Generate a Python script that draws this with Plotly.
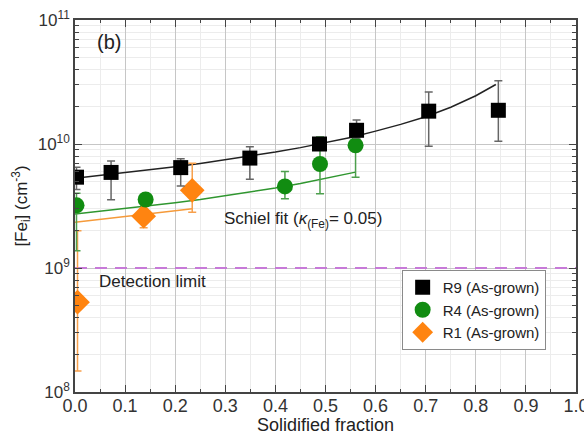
import plotly.graph_objects as go

# ---- measured Fe_i concentrations (cm^-3) vs. solidified fraction ----
r9_x = [0.003, 0.072, 0.211, 0.349, 0.488, 0.562, 0.706, 0.845]
r9_y = [5.4e9, 5.9e9, 6.45e9, 7.7e9, 1.0e10, 1.29e10, 1.84e10, 1.87e10]
r9_hi = [6.5e9, 7.3e9, 7.6e9, 9.5e9, 1.08e10, 1.56e10, 2.63e10, 3.23e10]
r9_lo = [4.3e9, 3.55e9, 4.58e9, 5.2e9, 9.2e9, 1.12e10, 9.6e9, 1.05e10]

r4_x = [0.003, 0.141, 0.419, 0.489, 0.560]
r4_y = [3.2e9, 3.57e9, 4.55e9, 6.9e9, 9.75e9]
r4_hi = [4.0e9, 3.8e9, 6.0e9, 1.14e10, 1.3e10]
r4_lo = [1.38e9, 3.35e9, 3.62e9, 3.97e9, 5.4e9]

r1_x = [0.005, 0.137, 0.234]
r1_y = [5.3e8, 2.62e9, 4.23e9]
r1_hi = [2.0e9, 3.0e9, 6.98e9]
r1_lo = [1.48e8, 2.11e9, 2.82e9]

# ---- Scheil fit curves ----
fit9_x = [0, 0.05, 0.10, 0.15, 0.20, 0.25, 0.30, 0.35, 0.40, 0.45, 0.50,
          0.55, 0.60, 0.65, 0.70, 0.75, 0.80, 0.84]
fit9_y = [5.3e9, 5.57e9, 5.86e9, 6.19e9, 6.55e9, 6.96e9, 7.44e9, 7.98e9,
          8.61e9, 9.35e9, 1.024e10, 1.13e10, 1.27e10, 1.44e10, 1.66e10,
          1.98e10, 2.45e10, 3.02e10]
fit4_x = [0, 0.05, 0.10, 0.15, 0.20, 0.25, 0.30, 0.35, 0.40, 0.45, 0.50, 0.56]
fit4_y = [2.72e9, 2.86e9, 3.01e9, 3.17e9, 3.36e9, 3.57e9, 3.82e9, 4.10e9,
          4.42e9, 4.80e9, 5.26e9, 5.93e9]
fit1_x = [0, 0.05, 0.10, 0.15, 0.20, 0.234]
fit1_y = [2.34e9, 2.46e9, 2.59e9, 2.73e9, 2.89e9, 3.01e9]

detection_limit = 1e9

y_ticks = [1e8, 1e9, 1e10, 1e11]
y_ticktext = ["10<sup>8</sup>", "10<sup>9</sup>", "10<sup>10</sup>", "10<sup>11</sup>"]
y_minor = [m * 10 ** e for e in (8, 9, 10) for m in range(2, 10)]

FONT = "Arial, Liberation Sans, sans-serif"
TXT = "#222222"


def err(y, hi, lo):
    return dict(type="data", symmetric=False,
                array=[h - v for h, v in zip(hi, y)],
                arrayminus=[v - l for v, l in zip(y, lo)])


fig = go.Figure()

# detection limit
fig.add_trace(go.Scatter(x=[0, 1], y=[detection_limit, detection_limit],
                         mode="lines", showlegend=False, hoverinfo="skip",
                         line=dict(color="#c77ad8", width=2, dash="12px,8px")))

# fit curves
fig.add_trace(go.Scatter(x=fit9_x, y=fit9_y, mode="lines", showlegend=False,
                         line=dict(color="#222222", width=1.5)))
fig.add_trace(go.Scatter(x=fit4_x, y=fit4_y, mode="lines", showlegend=False,
                         line=dict(color="#2f962f", width=1.5)))
fig.add_trace(go.Scatter(x=fit1_x, y=fit1_y, mode="lines", showlegend=False,
                         line=dict(color="#f59a3a", width=1.5)))

# measured points
fig.add_trace(go.Scatter(
    x=r1_x, y=r1_y, mode="markers", name="R1 (As-grown)",
    marker=dict(symbol="diamond", size=19, color="#ff8410", line=dict(width=0)),
    error_y=dict(**err(r1_y, r1_hi, r1_lo), color="#f7a04c", thickness=1.5, width=4)))
fig.add_trace(go.Scatter(
    x=r4_x, y=r4_y, mode="markers", name="R4 (As-grown)",
    marker=dict(symbol="circle", size=16, color="#118c11", line=dict(width=0)),
    error_y=dict(**err(r4_y, r4_hi, r4_lo), color="#4d9f4d", thickness=1.5, width=4)))
fig.add_trace(go.Scatter(
    x=r9_x, y=r9_y, mode="markers", name="R9 (As-grown)",
    marker=dict(symbol="square", size=15, color="#000000", line=dict(width=0)),
    error_y=dict(**err(r9_y, r9_hi, r9_lo), color="#666666", thickness=1.5, width=4)))

fig.update_layout(
    width=584, height=435,
    margin=dict(l=75, r=8, t=20, b=43, autoexpand=False),
    paper_bgcolor="white", plot_bgcolor="white",
    font=dict(family=FONT, size=18, color=TXT),
    legend=dict(x=0.652, y=0.328, xanchor="left", yanchor="top",
                bgcolor="white", bordercolor="#8a8a8a", borderwidth=1,
                traceorder="reversed", font=dict(size=15, color=TXT),
                tracegroupgap=0),
    annotations=[
        dict(text="(b)", x=0.068, y=0.941, xref="x", yref="paper",
             yanchor="middle", showarrow=False, font=dict(size=20, color=TXT)),
        dict(text="Detection limit", x=0.044, y=0.2965, xref="x", yref="paper",
             xanchor="left", yanchor="middle", showarrow=False,
             font=dict(size=17, color=TXT)),
        dict(text="Schiel fit (<i>κ</i><sub>(Fe)</sub>= 0.05)", x=0.293, y=0.462,
             xref="x", yref="paper", xanchor="left", yanchor="middle",
             showarrow=False, font=dict(size=17, color=TXT)),
        # x-axis title
        dict(text="Solidified fraction", x=0.5, y=-0.0887, xref="paper",
             yref="paper", xanchor="center", yanchor="middle",
             showarrow=False, font=dict(size=18, color=TXT)),
    ],
)

fig.update_xaxes(
    range=[0, 1], dtick=0.1, tick0=0, tickformat=".1f", automargin=False,
    ticklabeloverflow="allow", ticklabelstandoff=-3,
    showline=True, linecolor="#444444", linewidth=1.5, mirror="allticks",
    ticks="inside", ticklen=7, tickcolor="#444444", tickwidth=1.2,
    showgrid=True, gridcolor="#c6c6c6", gridwidth=1, zeroline=False,
    minor=dict(dtick=0.05, tick0=0, ticks="inside", ticklen=3,
               tickcolor="#444444", showgrid=True, gridcolor="#ececec"),
    tickfont=dict(size=18, color="#333333"),
)

fig.update_yaxes(
    type="log", range=[8, 11], tickmode="array", automargin=False,
    tickvals=y_ticks, ticktext=y_ticktext,
    showline=True, linecolor="#444444", linewidth=1.5, mirror="allticks",
    ticks="inside", ticklen=7, tickcolor="#444444", tickwidth=1.2,
    showgrid=True, gridcolor="#c6c6c6", gridwidth=1, zeroline=False,
    minor=dict(tickmode="array", tickvals=y_minor, ticks="inside", ticklen=4,
               tickcolor="#444444", showgrid=True, gridcolor="#ececec"),
    title=dict(text="[Fe<sub>i</sub>] (cm<sup>-3</sup>)", standoff=6,
               font=dict(size=17)),
    tickfont=dict(size=17, color="#333333"),
)

fig.write_html("out.html")
